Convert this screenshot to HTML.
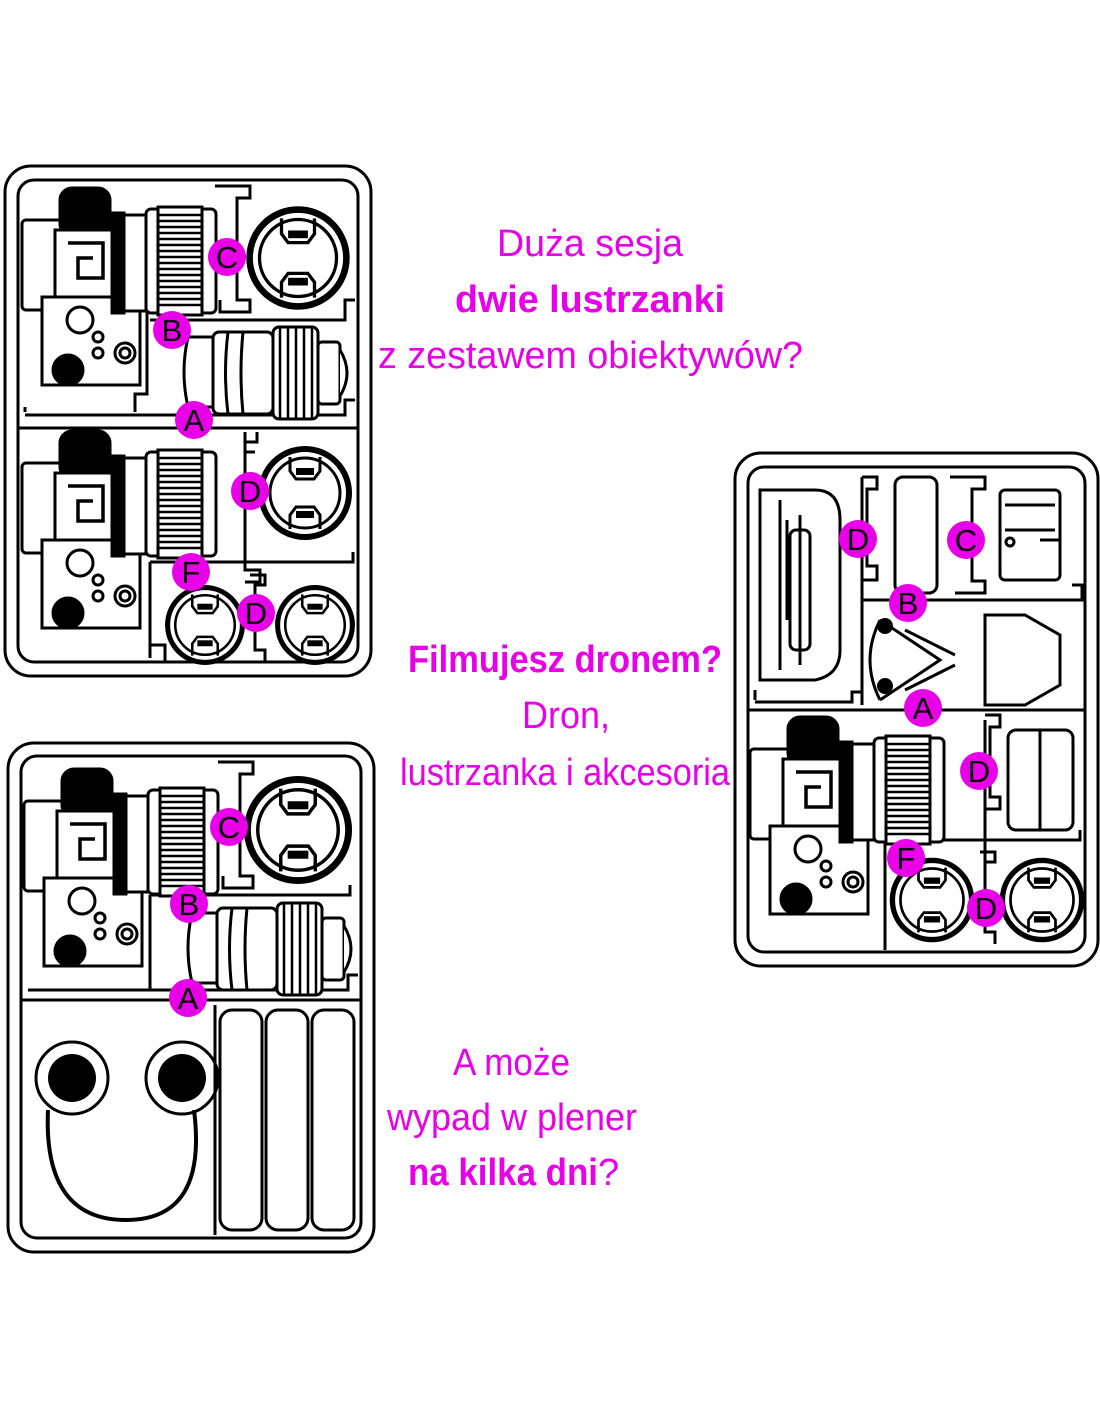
<!DOCTYPE html>
<html><head><meta charset="utf-8"><style>
html,body{margin:0;padding:0;background:#fff;}
svg{display:block}
.t{font-family:"Liberation Sans Narrow","Liberation Sans",sans-serif;fill:#e800e8;font-size:38px}
.b{font-weight:bold}
.l{font-family:"Liberation Sans",sans-serif;font-size:31px;fill:#000;text-anchor:middle}
</style></head><body>
<svg width="1100" height="1422" viewBox="0 0 1100 1422" xmlns="http://www.w3.org/2000/svg">
<defs>
<g id="cam" fill="none" stroke="#000" stroke-width="3">
  <rect x="2" y="35" width="40" height="90" rx="4" fill="#fff"/>
  <rect x="40" y="3" width="50" height="48" rx="12" fill="#000"/>
  <rect x="35" y="45" width="65" height="68" fill="#fff"/>
  <path d="M48 58h35v35h-25v-20h15" stroke-width="3.5"/>
  <path d="M22 112h98v88h-98z" fill="#fff"/>
  <circle cx="60" cy="135" r="13"/>
  <circle cx="78" cy="152" r="5"/>
  <circle cx="78" cy="168" r="5"/>
  <circle cx="48" cy="185" r="15" fill="#000"/>
  <circle cx="105" cy="168" r="10"/><circle cx="105" cy="168" r="5"/>
  <rect x="92" y="28" width="12" height="100" fill="#000"/>
  <rect x="104" y="30" width="22" height="96" fill="#fff"/>
  <rect x="126" y="24" width="70" height="104" rx="5" fill="#fff"/>
  <rect x="138" y="22" width="44" height="108" fill="#fff"/>
  <path d="M138 30h44M138 36h44M138 42h44M138 48h44M138 54h44M138 60h44M138 66h44M138 72h44M138 78h44M138 84h44M138 90h44M138 96h44M138 102h44M138 108h44M138 114h44M138 120h44" stroke-width="2.5"/>
</g>
<g id="cap" fill="none" stroke="#000">
  <circle r="44" stroke-width="6"/><circle r="35" stroke-width="3"/>
  <path d="M-15 -36v14l6 8h18l6-8v-14" stroke-width="3"/>
  <path d="M-15 36v-14l6-8h18l6 8v14" stroke-width="3"/>
  <rect x="-9" y="-25" width="18" height="7" fill="#000" stroke="none"/>
  <rect x="-9" y="18" width="18" height="7" fill="#000" stroke="none"/>
</g>
<g id="bigLens" fill="#fff" stroke="#000" stroke-width="3">
  <path d="M0 5 q-8 35 0 70 h30 v-70z"/>
  <rect x="25" y="0" width="60" height="82" rx="6"/>
  <path d="M40 0q-5 41 0 82M55 0q-4 41 0 82"/>
  <rect x="85" y="-5" width="45" height="92" rx="6"/>
  <path d="M92 -5v92M100 -5v92M108 -5v92M116 -5v92M124 -5v92" stroke-width="2.5"/>
  <rect x="130" y="10" width="22" height="62" rx="4"/>
  <path d="M152 18q14 23 0 46" />
</g>
</defs>

<!-- Case 1 -->
<g fill="none" stroke="#000" stroke-width="3">
  <rect x="5" y="166" width="366" height="510" rx="26"/>
  <rect x="18" y="180" width="340" height="482" rx="16"/>
  <path d="M18 428h340"/>
  <path d="M25 412v-5M25 415h320v-15h10M135 412v-18h12v-90h12"/>
  <path d="M215 186h35v12h-13v82M237 280v20h13v12h-30v-12"/>
  <path d="M150 320h195v-20h10"/>
  <path d="M245 432v10h12v-10M245 442v10h10M245 440v130h15v12h-15M245 442" />
  <path d="M150 562h203v-10M150 562v96M150 645h15v17"/>
  <path d="M250 575h15v10h-10v65h10v12"/>
</g>
<use href="#cam" x="20" y="185"/>
<use href="#cam" x="20" y="428"/>
<use href="#cap" transform="translate(298 258) scale(1.1)"/>
<use href="#bigLens" x="188" y="332"/>
<use href="#cap" transform="translate(305 493)"/>
<use href="#cap" transform="translate(205 625) scale(0.85)"/>
<use href="#cap" transform="translate(315 625) scale(0.85)"/>

<!-- Case 2 -->
<g fill="none" stroke="#000" stroke-width="3">
  <rect x="8" y="743" width="366" height="509" rx="26"/>
  <rect x="21" y="756" width="340" height="482" rx="16"/>
  <path d="M21 1000h340M28 990h320v-15h10"/>
  <path d="M218 762h35v12h-13v82M240 856v20h13v12h-30v-12"/>
  <path d="M150 895h200v-10M150 895v95"/>
  <rect x="220" y="1010" width="42" height="220" rx="12"/>
  <rect x="266" y="1010" width="42" height="220" rx="12"/>
  <rect x="312" y="1010" width="42" height="220" rx="12"/>
  <path d="M215 1005v230" />
  <path d="M48 1110q-5 110 78 110q82 0 68-110" stroke-width="4"/>
  <circle cx="72" cy="1078" r="36"/>
  <circle cx="182" cy="1078" r="36"/>
</g>
<circle cx="72" cy="1078" r="24" fill="#000"/>
<circle cx="182" cy="1078" r="24" fill="#000"/>
<use href="#cam" x="22" y="766"/>
<use href="#cap" transform="translate(298 830) scale(1.15)"/>
<use href="#bigLens" x="192" y="908"/>

<!-- Case 3 -->
<g fill="none" stroke="#000" stroke-width="3">
  <rect x="735" y="453" width="363" height="513" rx="26"/>
  <rect x="748" y="467" width="337" height="485" rx="16"/>
  <path d="M748 710h337M755 700v-10M755 702h97v-10h10v-215M862 590v115M862 600h220v-15h-10"/>
  <path d="M862 477h15v12h-10v77h10v14h-15"/>
  <path d="M950 477h35v12h-13v82M972 571v10h13v12h-30"/>
  <rect x="895" y="477" width="42" height="116" rx="8"/>
  <rect x="1000" y="490" width="60" height="90" rx="5"/>
  <path d="M1005 505h50M1005 530h50M1040 540h20"/><circle cx="1010" cy="542" r="4"/>
  <path d="M760 490h55q25 0 25 30v130q0 25-25 30h-55z"/>
  <path d="M780 500v170M800 515v150M787 520v100"/>
  <rect x="790" y="530" width="20" height="120" rx="6"/>
  <path d="M880 620l60 40l-60 40M880 620q-20 40 0 80M905 630l50 25M905 690l50-25M985 615h40l35 20v50l-35 20h-40z"/>
  <path d="M985 715h15v12h-10v70h10v12h-15M985 720v145M885 840h195v-10M885 840v110"/>
  <path d="M980 852h15v10h-10v70h10v12"/>
  <rect x="1008" y="730" width="65" height="100" rx="8"/>
  <path d="M1040 730v100"/>
</g>
<circle cx="885" cy="626" r="8" fill="#000"/><circle cx="885" cy="686" r="8" fill="#000"/>
<use href="#cam" x="748" y="714"/>
<use href="#cap" transform="translate(932 900) scale(0.9)"/>
<use href="#cap" transform="translate(1042 900) scale(0.9)"/>

<!-- labels -->
<g fill="#e800e8">
  <circle cx="227" cy="257" r="19"/><circle cx="172" cy="330" r="19"/><circle cx="194" cy="420" r="19"/>
  <circle cx="250" cy="491" r="19"/><circle cx="191" cy="572" r="19"/><circle cx="256" cy="613" r="19"/>
  <circle cx="229" cy="827" r="19"/><circle cx="189" cy="904" r="19"/><circle cx="188" cy="998" r="19"/>
  <circle cx="858" cy="539" r="19"/><circle cx="966" cy="540" r="19"/><circle cx="908" cy="603" r="19"/>
  <circle cx="923" cy="708" r="19"/><circle cx="979" cy="771" r="19"/><circle cx="906" cy="858" r="19"/><circle cx="986" cy="908" r="19"/>
</g>
<g class="l">
  <text x="227" y="268">C</text><text x="172" y="341">B</text><text x="194" y="431">A</text>
  <text x="250" y="502">D</text><text x="191" y="583">F</text><text x="256" y="624">D</text>
  <text x="229" y="838">C</text><text x="189" y="915">B</text><text x="188" y="1009">A</text>
  <text x="858" y="550">D</text><text x="966" y="551">C</text><text x="908" y="614">B</text>
  <text x="923" y="719">A</text><text x="979" y="782">D</text><text x="906" y="869">F</text><text x="986" y="919">D</text>
</g>

<text class="t" x="497" y="256" textLength="186" lengthAdjust="spacingAndGlyphs">Duża sesja</text>
<text class="t b" x="455" y="312" textLength="270" lengthAdjust="spacingAndGlyphs">dwie lustrzanki</text>
<text class="t" x="378" y="368" textLength="425" lengthAdjust="spacingAndGlyphs">z zestawem obiektywów?</text>
<text class="t b" x="408" y="672" textLength="314" lengthAdjust="spacingAndGlyphs">Filmujesz dronem?</text>
<text class="t" x="522" y="728" textLength="88" lengthAdjust="spacingAndGlyphs">Dron,</text>
<text class="t" x="400" y="785" textLength="330" lengthAdjust="spacingAndGlyphs">lustrzanka i akcesoria</text>
<text class="t" x="453" y="1075" textLength="117" lengthAdjust="spacingAndGlyphs">A może</text>
<text class="t" x="387" y="1130" textLength="250" lengthAdjust="spacingAndGlyphs">wypad w plener</text>
<text class="t b" x="408" y="1185" textLength="190" lengthAdjust="spacingAndGlyphs">na kilka dni</text>
<text class="t" x="598" y="1185">?</text>
</svg>
</body></html>
